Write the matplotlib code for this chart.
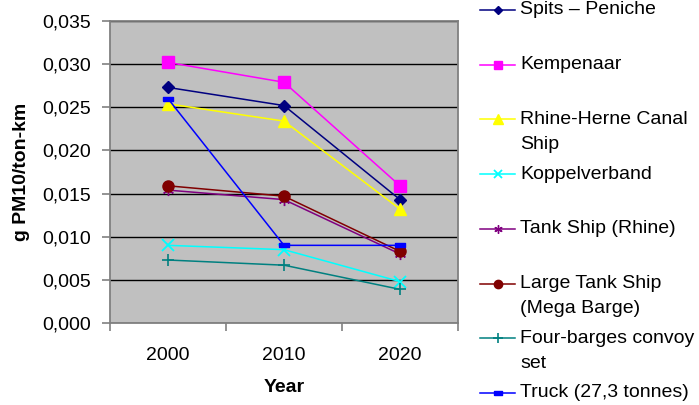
import numpy as np
import matplotlib
matplotlib.use("Agg")
import matplotlib.pyplot as plt
from matplotlib.lines import Line2D
from matplotlib.ticker import FuncFormatter

plt.rcParams['font.family'] = ['Liberation Sans', 'DejaVu Sans']

# Emission factors, g PM10 per ton-km
years = ['2000', '2010', '2020']
spits_peniche = [0.0273, 0.0252, 0.0143]
kempenaar = [0.0302, 0.0279, 0.0159]
rhine_herne = [0.0254, 0.0234, 0.0132]
koppelverband = [0.0090, 0.0085, 0.0048]
tank_ship_rhine = [0.0154, 0.0143, 0.0080]
large_tank_ship = [0.0159, 0.0147, 0.0083]
four_barges = [0.0073, 0.0067, 0.0039]
truck = [0.0260, 0.0090, 0.0090]

labels = ['Spits – Peniche', 'Kempenaar', 'Rhine-Herne Canal\nShip', 'Koppelverband',
          'Tank Ship (Rhine)', 'Large Tank Ship\n(Mega Barge)', 'Four-barges convoy\nset',
          'Truck (27,3 tonnes)']
series = [spits_peniche, kempenaar, rhine_herne, koppelverband,
          tank_ship_rhine, large_tank_ship, four_barges, truck]

# Excel-like marker for the truck series: a short flat box
dash_box = [(-1, -0.45), (1, -0.45), (1, 0.45), (-1, 0.45), (-1, -0.45)]

styles = [
    dict(color='#000080', marker='D', ms=6, mfc='#000080', mec='#000080'),
    dict(color='#FF00FF', marker='s', ms=8, mfc='#FF00FF', mec='#FF00FF'),
    dict(color='#FFFF00', marker='^', ms=9, mfc='#FFFF00', mec='#FFFF00'),
    dict(color='#00FFFF', marker='x', ms=8, mew=1.3, mec='#00FFFF'),
    dict(color='#800080', marker=(6, 2, 0), ms=8, mew=1.0, mec='#800080'),
    dict(color='#800000', marker='o', ms=8, mfc='#800000', mec='#800000'),
    dict(color='#008080', marker='+', ms=9, mew=1.2, mec='#008080'),
    dict(color='#0000FF', marker=dash_box, ms=7, mfc='#0000FF', mec='#0000FF'),
]

W, H = 699, 405
fig = plt.figure(figsize=(W / 100, H / 100), dpi=100)
ax = fig.add_axes([110 / W, 1 - 323 / H, 348 / W, 302 / H])
ax.set_facecolor('#C0C0C0')

x = np.arange(len(years)) + 0.5
for vals, st in zip(series, styles):
    ax.plot(x, vals, lw=1.1, zorder=3, **st)

ax.set_xlim(0, 3)
ax.set_ylim(0, 0.035)
ax.set_yticks(np.arange(0, 0.0351, 0.005))
ax.yaxis.set_major_formatter(FuncFormatter(lambda v, p: f'{v:.3f}'.replace('.', ',')))
ax.set_xticks([0, 1, 2, 3])
ax.set_xticklabels([])
ax.set_xticks(x, minor=True)
ax.set_xticklabels(years, minor=True)
ax.tick_params(axis='x', which='minor', length=0, pad=17, labelsize=14)
ax.tick_params(axis='x', which='major', length=6, width=1.2, color='#808080', direction='out')
ax.tick_params(axis='y', length=6, width=1.2, color='#808080', pad=8, labelsize=14)

ax.grid(axis='y', color='black', lw=1, zorder=1)
ax.set_axisbelow(True)
for side in ['left', 'bottom', 'top', 'right']:
    ax.spines[side].set_color('#808080')
    ax.spines[side].set_linewidth(1.3)

ax.set_ylabel('g PM10/ton-km', fontsize=14, fontweight='bold')
ax.yaxis.set_label_coords(-0.23, 0.5)
ax.set_xlabel('Year', fontsize=14, fontweight='bold')
ax.xaxis.set_label_coords(0.5, -0.185)

# Legend drawn on the figure, one row per series, wrapped labels below the first line
to_fig = lambda px, py: (px / W, 1 - py / H)
row0, step, line_gap = 10, 54.7, 25
for i, (label, st) in enumerate(zip(labels, styles)):
    y = row0 + i * step
    (x0, yy), (x1, _) = to_fig(480, y), to_fig(515, y)
    fig.add_artist(Line2D([x0, x1], [yy, yy], color=st['color'], lw=1.1,
                          transform=fig.transFigure))
    mst = {k: v for k, v in st.items() if k != 'color'}
    mst['ms'] = mst['ms'] * 0.75
    fig.add_artist(Line2D([(x0 + x1) / 2], [yy], lw=0, transform=fig.transFigure, **mst))
    for j, line in enumerate(label.split('\n')):
        tx, ty = to_fig(520, y + j * line_gap)
        fig.text(tx, ty, line, fontsize=14, va='center', ha='left')

fig.savefig('out.png', dpi=100, facecolor='white')
